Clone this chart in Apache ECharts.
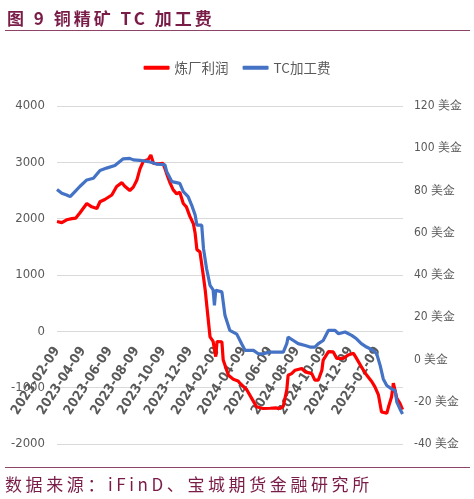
<!DOCTYPE html>
<html>
<head>
<meta charset="utf-8">
<script src="https://cdn.jsdelivr.net/npm/echarts@6/dist/echarts.min.js"></script>
<style>
html,body{margin:0;padding:0;background:#fff;}
#wrap{position:relative;width:474px;height:499px;overflow:hidden;}
#chart{position:absolute;left:0;top:0;width:474px;height:499px;}
#title{position:absolute;left:7px;top:5px;font-family:"Noto Sans CJK SC",sans-serif;font-weight:700;font-size:17px;letter-spacing:3px;color:#7a1c48;white-space:pre;}
#tline{position:absolute;left:5px;top:30px;width:465px;height:0;border-top:1.5px solid #8c4469;}
#bline{position:absolute;left:5px;top:467px;width:465px;height:0;border-top:1.5px solid #8c4469;}
#source{position:absolute;left:5px;top:471px;font-family:"Noto Sans CJK SC",sans-serif;font-size:17px;letter-spacing:3.6px;color:#7a1c48;white-space:pre;}
</style>
</head>
<body>
<div id="wrap">
<div id="chart"></div>
<div id="title">图 9 铜精矿 TC 加工费</div>
<div id="tline"></div>
<div id="bline"></div>
<div id="source">数据来源：iFinD、宝城期货金融研究所</div>
</div>
<script>
// ---- data ----
const seriesNames = ['炼厂利润', 'TC加工费'];
const startDate = '2023-02-09';
const endDate = '2025-04-08';
const tickLabels = ['2023-02-09','2023-04-09','2023-06-09','2023-08-09','2023-10-09','2023-12-09',
  '2024-02-09','2024-04-09','2024-06-09','2024-08-09','2024-10-09','2024-12-09','2025-02-09'];

const profitDates = ['2023-02-09','2023-02-20','2023-03-03','2023-03-15','2023-03-24','2023-04-02','2023-04-06','2023-04-18','2023-04-29','2023-05-11','2023-05-18','2023-05-29','2023-06-14','2023-06-25','2023-07-07','2023-07-13','2023-07-25','2023-08-02','2023-08-10','2023-08-17','2023-08-25','2023-09-05','2023-09-11','2023-09-17','2023-09-27','2023-10-09','2023-10-17','2023-10-25','2023-11-01','2023-11-09','2023-11-16','2023-11-24','2023-12-01','2023-12-09','2023-12-17','2023-12-21','2023-12-25','2024-01-01','2024-01-09','2024-01-13','2024-01-16','2024-01-24','2024-01-31','2024-02-06','2024-02-09','2024-02-20','2024-02-23','2024-03-06','2024-03-17','2024-03-28','2024-04-01','2024-04-17','2024-04-28','2024-05-09','2024-05-24','2024-06-09','2024-06-22','2024-07-02','2024-07-09','2024-07-17','2024-07-20','2024-07-28','2024-08-05','2024-08-20','2024-08-28','2024-09-12','2024-09-19','2024-09-27','2024-10-05','2024-10-08','2024-10-20','2024-10-31','2024-11-08','2024-11-23','2024-12-04','2024-12-16','2024-12-23','2025-01-03','2025-01-15','2025-01-27','2025-02-03','2025-02-11','2025-02-18','2025-03-02','2025-03-06','2025-03-13','2025-03-17','2025-03-25','2025-04-01','2025-04-07'];
const profitValues = [1950,1930,1980,2000,2010,2100,2120,2270,2210,2180,2300,2340,2420,2570,2640,2580,2500,2560,2680,2880,3020,3050,3130,2980,2975,2980,2800,2630,2510,2440,2470,2270,2210,2040,1910,1740,1450,1410,970,730,500,-100,-180,-450,-180,-185,-510,-780,-850,-880,-920,-1040,-1190,-1340,-1370,-1365,-1360,-1370,-1330,-1040,-780,-750,-690,-660,-720,-750,-865,-865,-690,-510,-360,-365,-480,-480,-420,-390,-480,-630,-775,-895,-985,-1130,-1430,-1455,-1340,-1160,-920,-1190,-1280,-1390];

const tcDates = ['2023-02-09','2023-02-20','2023-03-03','2023-03-11','2023-03-22','2023-04-02','2023-04-18','2023-05-03','2023-05-18','2023-06-02','2023-06-21','2023-07-10','2023-07-25','2023-08-02','2023-08-17','2023-09-05','2023-09-17','2023-09-24','2023-10-13','2023-10-17','2023-10-29','2023-11-16','2023-11-24','2023-12-05','2023-12-13','2023-12-21','2023-12-25','2024-01-05','2024-01-09','2024-01-16','2024-01-24','2024-01-31','2024-02-03','2024-02-06','2024-02-20','2024-02-27','2024-03-09','2024-03-25','2024-04-05','2024-04-13','2024-05-02','2024-05-13','2024-05-24','2024-06-09','2024-07-09','2024-07-17','2024-07-20','2024-08-01','2024-08-12','2024-08-28','2024-09-08','2024-09-19','2024-09-27','2024-10-08','2024-10-20','2024-11-04','2024-11-12','2024-11-27','2024-12-12','2024-12-23','2025-01-03','2025-01-15','2025-01-30','2025-02-07','2025-02-15','2025-02-22','2025-03-02','2025-03-13','2025-03-21','2025-03-25','2025-04-01','2025-04-07'];
const tcValues = [80.5,78.7,77.9,77.1,79.5,81.9,85,85.8,89.5,90.6,91.8,95,95.2,94.5,94.3,93.7,93,92.5,92.2,89,84.2,83.4,79.5,77.1,73.1,68.4,63.6,63.6,52.6,43.1,35.1,33,25.6,32.8,32,20.9,13.8,12,7.5,4.3,4.3,2.7,2.7,3.5,3.5,7.5,10.6,9,7.5,6.6,5.9,5.9,7.5,9,13.8,13.8,12.2,13,11.4,9.8,7.5,5.9,4.3,2.7,-2.9,-9.2,-12.3,-13.9,-14.7,-20.2,-23.4,-25.8];

const leftMin = -2000, leftMax = 4000, leftStep = 1000;
const rightMin = -40, rightMax = 120, rightStep = 20;

// ---- axis categories: every calendar day ----
function buildDays(a, b) {
  const out = [];
  const p = s => { const t = s.split('-').map(Number); return Date.UTC(t[0], t[1]-1, t[2]); };
  for (let t = p(a); t <= p(b); t += 86400000) {
    const d = new Date(t);
    out.push(d.getUTCFullYear() + '-' + String(d.getUTCMonth()+1).padStart(2,'0') + '-' + String(d.getUTCDate()).padStart(2,'0'));
  }
  return out;
}
const days = buildDays(startDate, endDate);
const tickSet = new Set(tickLabels);

const gridTop = 106, gridBottom = 55, H = 499;
const plotH = H - gridTop - gridBottom;
// place the category axis on the zero line of the left axis
const zeroOffset = -plotH * (0 - leftMin) / (leftMax - leftMin);

const chart = echarts.init(document.getElementById('chart'), null, {renderer: 'canvas'});
const narrow = "'Liberation Sans Narrow','DejaVu Sans Condensed','Liberation Sans',sans-serif";
chart.setOption({
  animation: false,
  backgroundColor: '#ffffff',
  legend: {
    top: 56, left: 'center',
    icon: 'roundRect',
    itemWidth: 26, itemHeight: 4, itemGap: 14,
    textStyle: {color: '#595959', fontSize: 13.5, fontFamily: "'Noto Sans CJK SC',sans-serif"},
    data: seriesNames
  },
  grid: {left: 57, right: 71, top: gridTop, bottom: gridBottom, containLabel: false},
  xAxis: {
    type: 'category',
    data: days,
    boundaryGap: false,
    offset: zeroOffset,
    axisLine: {show: false, onZero: false},
    axisTick: {show: false},
    splitLine: {show: false},
    axisLabel: {
      interval: (i, v) => tickSet.has(v),
      rotate: 57, margin: 17,
      color: '#595959', fontSize: 13.5, fontWeight: 'bold', fontFamily: narrow
    }
  },
  yAxis: [
    {
      type: 'value', min: leftMin, max: leftMax, interval: leftStep,
      axisLine: {show: false}, axisTick: {show: false},
      splitLine: {lineStyle: {color: '#d9d9d9', width: 1}},
      axisLabel: {color: '#595959', fontSize: 13, margin: 12, fontFamily: narrow, formatter: v => String(v)}
    },
    {
      type: 'value', min: rightMin, max: rightMax, interval: rightStep,
      axisLine: {show: false}, axisTick: {show: false},
      splitLine: {show: false},
      axisLabel: {color: '#595959', fontSize: 12, margin: 11, fontFamily: narrow, formatter: v => v + ' 美金'}
    }
  ],
  series: [
    {
      name: seriesNames[0], type: 'line', yAxisIndex: 0,
      showSymbol: false, symbol: 'none',
      lineStyle: {color: '#ff0000', width: 3.2},
      itemStyle: {color: '#ff0000'},
      data: profitDates.map((d, i) => [d, profitValues[i]])
    },
    {
      name: seriesNames[1], type: 'line', yAxisIndex: 1,
      showSymbol: false, symbol: 'none',
      lineStyle: {color: '#4472c4', width: 3.2},
      itemStyle: {color: '#4472c4'},
      data: tcDates.map((d, i) => [d, tcValues[i]])
    }
  ]
});
</script>
</body>
</html>
